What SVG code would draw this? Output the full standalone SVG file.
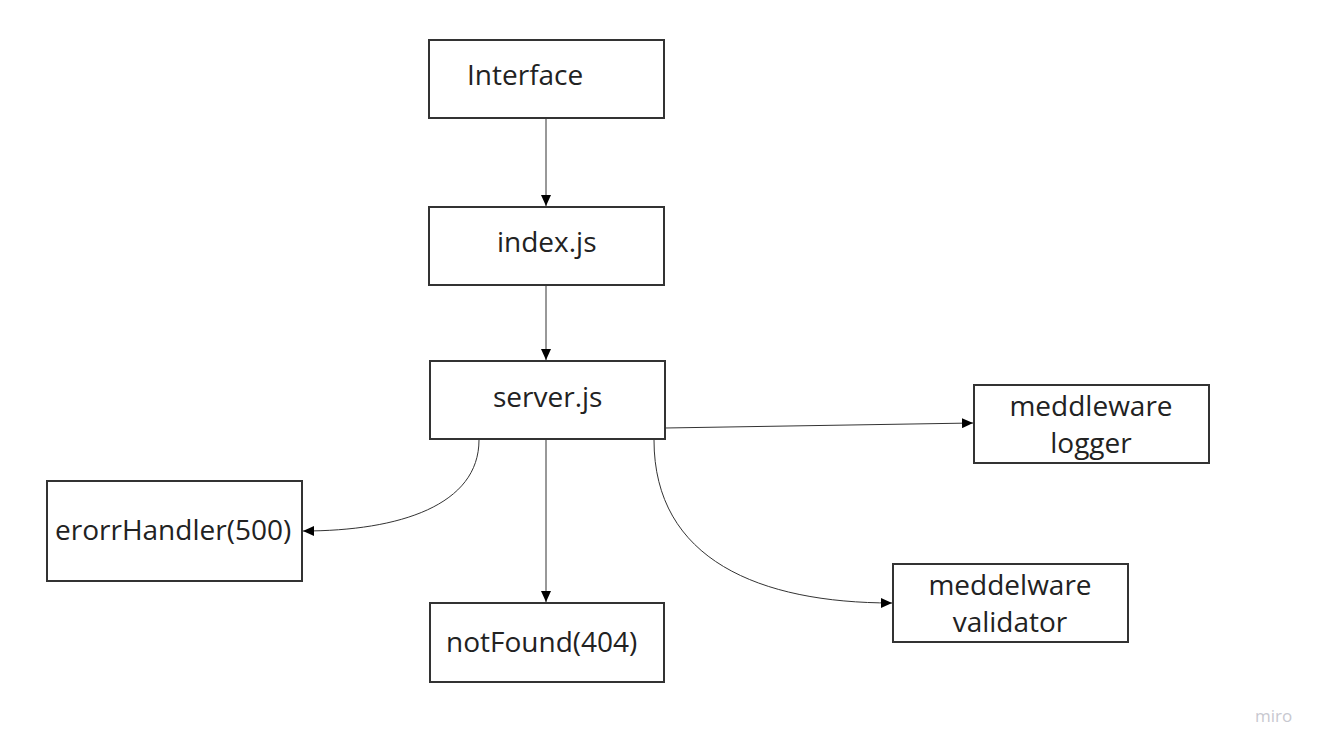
<svg xmlns="http://www.w3.org/2000/svg" width="1326" height="753" viewBox="0 0 1326 753">
<style>
.box{fill:#fff;stroke:#333;stroke-width:2}
.t{font-family:"Open Sans","Liberation Sans",sans-serif;font-size:28px;fill:#222}
.c{fill:none;stroke:#333;stroke-width:1}
</style>
<defs>
<marker id="ah" markerWidth="12" markerHeight="10" refX="11" refY="5" orient="auto" markerUnits="userSpaceOnUse">
<path d="M0,0 L11,5 L0,10 Z" fill="#000"/>
</marker>
</defs>
<rect width="1326" height="753" fill="#fff"/>
<g id="connectors">
<path class="c" d="M546,119 V206" marker-end="url(#ah)"/>
<path class="c" d="M546,286 V360" marker-end="url(#ah)"/>
<path class="c" d="M665,428 L973,423" marker-end="url(#ah)"/>
<path class="c" d="M546,440 V602" marker-end="url(#ah)"/>
<path class="c" d="M479,440 C479,505 400,531 303,531" marker-end="url(#ah)"/>
<path class="c" d="M654,440 C654,560 760,603 892,603" marker-end="url(#ah)"/>
</g>
<g id="interface"><rect class="box" x="429" y="40" width="235" height="78"/><text class="t" x="467" y="85">Interface</text></g>
<g id="index"><rect class="box" x="429" y="207" width="235" height="78"/><text class="t" x="497" y="252">index.js</text></g>
<g id="server"><rect class="box" x="430" y="361" width="235" height="78"/><text class="t" x="493" y="407">server.js</text></g>
<g id="logger"><rect class="box" x="974" y="385" width="235" height="78"/><text class="t" x="1091" y="416" text-anchor="middle">meddleware</text><text class="t" x="1091" y="453" text-anchor="middle">logger</text></g>
<g id="errorHandler"><rect class="box" x="47" y="481" width="255" height="100"/><text class="t" x="55" y="540">erorrHandler(500)</text></g>
<g id="validator"><rect class="box" x="893" y="564" width="235" height="78"/><text class="t" x="1010" y="595" text-anchor="middle">meddelware</text><text class="t" x="1010" y="632" text-anchor="middle">validator</text></g>
<g id="notFound"><rect class="box" x="430" y="603" width="234" height="79"/><text class="t" x="446" y="652">notFound(404)</text></g>
<text x="1255" y="722" font-family="'Open Sans','Liberation Sans',sans-serif" font-size="17" fill="#c8c8d0">miro</text>
</svg>
